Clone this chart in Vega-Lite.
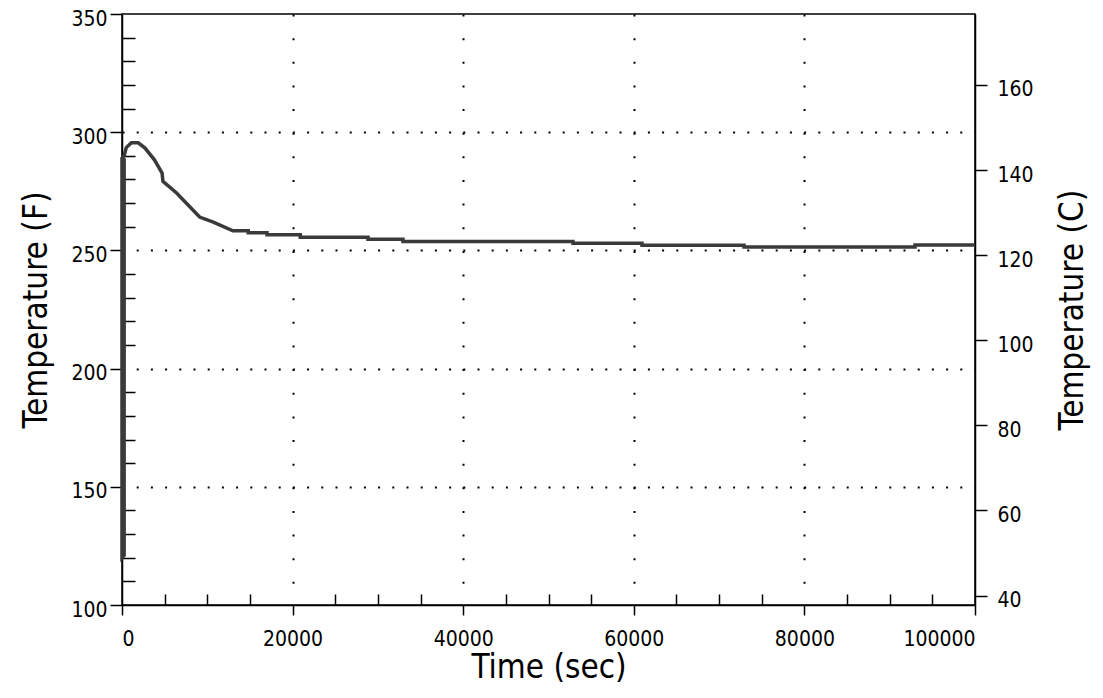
{
  "$schema": "https://vega.github.io/schema/vega-lite/v6.json",
  "width": 853,
  "height": 591,
  "autosize": {"type": "none"},
  "padding": {"left": 122, "top": 14, "right": 128, "bottom": 93},
  "background": "white",
  "config": {
    "view": {"stroke": "#000", "strokeWidth": 1.5},
    "font": "Liberation Sans Narrow, DejaVu Sans Condensed, Liberation Sans",
    "axis": {
      "labelFont": "Liberation Sans Narrow, DejaVu Sans Condensed, Liberation Sans",
      "titleFont": "Liberation Sans Narrow, DejaVu Sans Condensed, Liberation Sans",
      "labelColor": "#000",
      "titleColor": "#000",
      "tickColor": "#000",
      "domainColor": "#000",
      "gridColor": "#000",
      "labelFontSize": 21,
      "titleFontSize": 33,
      "titleFontWeight": "normal",
      "tickWidth": 1.5,
      "domainWidth": 1.5
    }
  },
  "data": {
    "values": [
      {"t": 250, "f": 289},
      {"t": 250, "f": 121},
      {"t": 0, "f": 120},
      {"t": 0, "f": 289},
      {"t": 250, "f": 290},
      {"t": 500, "f": 293.5},
      {"t": 1100, "f": 295.5},
      {"t": 1900, "f": 295.5},
      {"t": 2700, "f": 293.3},
      {"t": 3800, "f": 288.3},
      {"t": 4700, "f": 282.7},
      {"t": 4800, "f": 279.2},
      {"t": 6400, "f": 274.3},
      {"t": 9100, "f": 264.1},
      {"t": 10700, "f": 262},
      {"t": 13000, "f": 258.3},
      {"t": 14800, "f": 258.3},
      {"t": 14800, "f": 257.5},
      {"t": 17000, "f": 257.5},
      {"t": 17000, "f": 256.6},
      {"t": 20900, "f": 256.6},
      {"t": 20900, "f": 255.6},
      {"t": 28840, "f": 255.6},
      {"t": 28840, "f": 254.7},
      {"t": 32940, "f": 254.7},
      {"t": 32940, "f": 253.8},
      {"t": 52870, "f": 253.8},
      {"t": 52870, "f": 253.0},
      {"t": 60960, "f": 253.0},
      {"t": 60960, "f": 252.2},
      {"t": 72920, "f": 252.2},
      {"t": 72920, "f": 251.4},
      {"t": 92970, "f": 251.4},
      {"t": 92970, "f": 252.3},
      {"t": 100000, "f": 252.3}
    ]
  },
  "resolve": {"scale": {"x": "independent", "y": "independent"}},
  "layer": [
    {
      "mark": {"type": "line", "strokeOpacity": 0},
      "encoding": {
        "x": {"field": "t", "type": "quantitative",
          "scale": {"domain": [0, 100000], "nice": false, "zero": false},
          "axis": {"orient": "bottom", "values": [20000, 40000, 60000, 80000], "grid": true, "ticks": false, "labels": false, "domain": false, "title": null,
            "gridDash": [2, 21.64], "gridWidth": 2, "gridOpacity": 1}},
        "y": {"field": "f", "type": "quantitative",
          "scale": {"domain": [100, 350], "nice": false, "zero": false},
          "axis": {"orient": "left", "values": [150, 200, 250, 300], "grid": true, "ticks": false, "labels": false, "domain": false, "title": null,
            "gridDash": [2, 12.2], "gridWidth": 2, "gridOpacity": 1}}
      }
    },
    {
      "mark": {"type": "line", "strokeOpacity": 0},
      "encoding": {
        "x": {"field": "t", "type": "quantitative",
          "scale": {"domain": [0, 100000], "nice": false, "zero": false},
          "axis": {"orient": "bottom", "values": [5000, 10000, 15000, 25000, 30000, 35000, 45000, 50000, 55000, 65000, 70000, 75000, 85000, 90000, 95000],
            "grid": false, "ticks": true, "tickSize": -11, "labels": false, "domain": false, "title": null}},
        "y": {"field": "f", "type": "quantitative",
          "scale": {"domain": [100, 350], "nice": false, "zero": false},
          "axis": {"orient": "left", "values": [110, 120, 130, 140, 160, 170, 180, 190, 210, 220, 230, 240, 260, 270, 280, 290, 310, 320, 330, 340],
            "grid": false, "ticks": true, "tickSize": -13, "labels": false, "domain": false, "title": null}}
      }
    },
    {
      "mark": {"type": "line", "strokeOpacity": 0},
      "encoding": {
        "x": {"field": "t", "type": "quantitative",
          "scale": {"domain": [0, 100000], "nice": false, "zero": false},
          "axis": null},
        "y": {"field": "f", "type": "quantitative",
          "scale": {"domain": [100, 350], "nice": false, "zero": false},
          "axis": {"orient": "right", "values": [104, 140, 176, 212, 248, 284, 320],
            "labelExpr": "format(round((datum.value-32)*5/9), 'd')",
            "grid": false, "tickSize": 12, "labelPadding": 10, "labelOffset": 5, "domain": true,
            "title": "Temperature (C)", "titleAngle": 270, "titlePadding": 56}}
      }
    },
    {
      "mark": {"type": "line", "color": "#3a3a3a", "strokeWidth": 3.5, "strokeJoin": "miter"},
      "encoding": {
        "x": {"field": "t", "type": "quantitative",
          "scale": {"domain": [0, 100000], "nice": false, "zero": false},
          "axis": {"orient": "bottom", "values": [0, 20000, 40000, 60000, 80000, 100000], "format": "d",
            "grid": false, "tickSize": 10, "labelPadding": 13, "domain": true,
            "title": "Time (sec)", "titlePadding": 2}},
        "y": {"field": "f", "type": "quantitative",
          "scale": {"domain": [100, 350], "nice": false, "zero": false},
          "axis": {"orient": "left", "values": [100, 150, 200, 250, 300, 350], "format": "d",
            "grid": false, "tickSize": 12, "labelPadding": 3, "labelOffset": 5, "domain": true,
            "title": "Temperature (F)", "titlePadding": 17}},
        "order": {"value": null}
      }
    }
  ]
}
